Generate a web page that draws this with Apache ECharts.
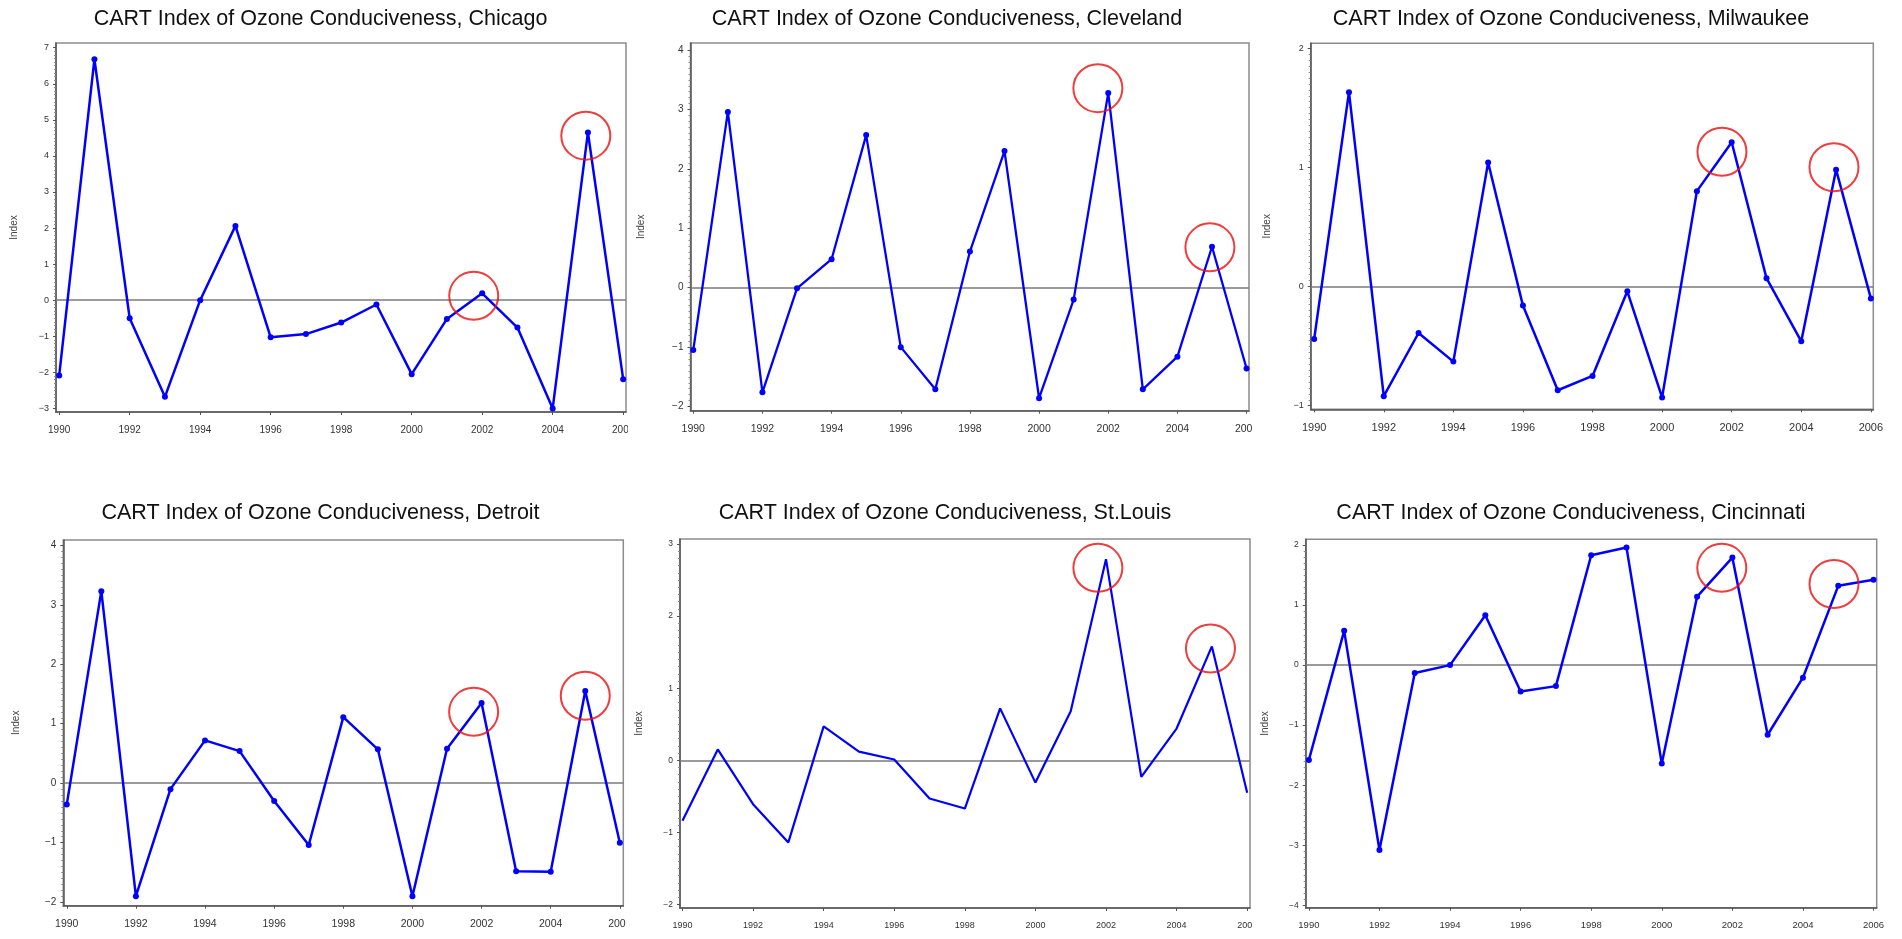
<!DOCTYPE html>
<html><head><meta charset="utf-8">
<script src="https://cdn.jsdelivr.net/npm/echarts@6.0.0/dist/echarts.min.js"></script>
<style>
html,body{margin:0;padding:0;background:#fff;width:1902px;height:939px;overflow:hidden;}
.p{position:absolute;overflow:hidden;background:#fff;}
</style></head><body>
<div id="c0" class="p"></div><div id="c1" class="p"></div><div id="c2" class="p"></div>
<div id="c3" class="p"></div><div id="c4" class="p"></div><div id="c5" class="p"></div>
<script>
// ---- data ----
const years = [1990,1991,1992,1993,1994,1995,1996,1997,1998,1999,2000,2001,2002,2003,2004,2005,2006];
const xTickYears = [1990,1992,1994,1996,1998,2000,2002,2004,2006];

const chicago    = [-2.09,6.68,-0.50,-2.68,0.00,2.06,-1.03,-0.94,-0.62,-0.12,-2.05,-0.52,0.19,-0.76,-3.00,4.65,-2.19];
const cleveland  = [-1.05,2.96,-1.76,-0.01,0.48,2.57,-1.00,-1.71,0.61,2.30,-1.86,-0.20,3.28,-1.71,-1.16,0.69,-1.36];
const milwaukee  = [-0.44,1.63,-0.92,-0.39,-0.63,1.04,-0.16,-0.87,-0.75,-0.04,-0.93,0.80,1.21,0.07,-0.46,0.98,-0.10];
const detroit    = [-0.36,3.23,-1.90,-0.10,0.72,0.54,-0.30,-1.04,1.11,0.57,-1.90,0.58,1.35,-1.48,-1.49,1.55,-1.00];
const stlouis    = [-0.84,0.15,-0.61,-1.14,0.47,0.12,0.01,-0.53,-0.67,0.72,-0.31,0.68,2.79,-0.23,0.44,1.58,-0.45];
const cincinnati = [-1.58,0.57,-3.08,-0.13,0.00,0.83,-0.44,-0.35,1.83,1.96,-1.64,1.14,1.79,-1.16,-0.21,1.32,1.42];

const chicagoYTicks    = [-3,-2,-1,0,1,2,3,4,5,6,7];
const clevelandYTicks  = [-2,-1,0,1,2,3,4];
const milwaukeeYTicks  = [-1,0,1,2];
const detroitYTicks    = [-2,-1,0,1,2,3,4];
const stlouisYTicks    = [-2,-1,0,1,2,3];
const cincinnatiYTicks = [-4,-3,-2,-1,0,1,2];

// highlighted-year annotation circles (centre in data coordinates)
const chicagoCircles    = [[2001.76,0.12],[2004.94,4.56]];
const clevelandCircles  = [[2001.70,3.36],[2004.94,0.68]];
const milwaukeeCircles  = [[2001.72,1.13],[2004.94,1.00]];
const detroitCircles    = [[2001.77,1.20],[2005.00,1.47]];
const stlouisCircles    = [[2001.77,2.67],[2004.96,1.55]];
const cincinnatiCircles = [[2001.70,1.62],[2004.88,1.35]];

const titlePrefix = 'CART Index of Ozone Conduciveness, ';
const cities = ['Chicago','Cleveland','Milwaukee','Detroit','St.Louis','Cincinnati'];

// ---- layout / style ----
const panels = [
 {city:cities[0], vals:chicago,    circ:chicagoCircles,    yt:chicagoYTicks,    box:[0,0,628,470],     grid:[56,43,570,369],      xr:[1989.91,2006.08], yr:[-3.10,7.13],  title:[320.5,19], gap:37,   xf:10,  yf:9,   lw:2.5, sym:true,  minor:10},
 {city:cities[1], vals:cleveland,  circ:clevelandCircles,  yt:clevelandYTicks,  box:[632,0,620,470],   grid:[58.5,43,558.5,367.7], xr:[1989.92,2006.07], yr:[-2.07,4.12],  title:[315,19],   gap:44.5, xf:10.5,yf:10,  lw:2.3, sym:true,  minor:10},
 {city:cities[2], vals:milwaukee,  circ:milwaukeeCircles,  yt:milwaukeeYTicks,  box:[1256,0,646,470],  grid:[54.7,43.3,562.6,366], xr:[1989.90,2006.07], yr:[-1.03,2.04],  title:[315,19],   gap:38.7, xf:11,  yf:9,   lw:2.5, sym:true,  minor:20},
 {city:cities[3], vals:detroit,    circ:detroitCircles,    yt:detroitYTicks,    box:[0,470,626,469],   grid:[63.3,70,560,365.7],   xr:[1989.90,2006.10], yr:[-2.06,4.09],  title:[320.5,43.3], gap:42,   xf:10.5,yf:10,  lw:2.5, sym:true,  minor:10},
 {city:cities[4], vals:stlouis,    circ:stlouisCircles,    yt:stlouisYTicks,    box:[632,470,620,469], grid:[48,69,570,369],       xr:[1989.93,2006.08], yr:[-2.05,3.07],  title:[313,43.3],   gap:36,   xf:9,   yf:8.5, lw:2.2, sym:false, minor:10},
 {city:cities[5], vals:cincinnati, circ:cincinnatiCircles, yt:cincinnatiYTicks, box:[1256,470,646,469],grid:[49.7,69.3,571,368.4], xr:[1989.91,2006.09], yr:[-4.04,2.095], title:[315,43.3],   gap:35.7, xf:9.5, yf:8.5, lw:2.5, sym:true,  minor:10}
];

const FONT = '"Liberation Sans", Arial, Helvetica, sans-serif';
const fmtY = v => (v < 0 ? '\u2212' + Math.abs(v) : String(v));

panels.forEach((p, i) => {
  const el = document.getElementById('c' + i);
  el.style.left = p.box[0] + 'px'; el.style.top = p.box[1] + 'px';
  el.style.width = p.box[2] + 'px'; el.style.height = p.box[3] + 'px';
  const chart = echarts.init(el, null, {renderer: 'canvas'});

  const minors = [];
  for (let k = 0; k < p.yt.length - 1; k++) {
    for (let m = 1; m < p.minor; m++) minors.push(p.yt[k] + m / p.minor);
  }

  const yCommon = {type:'value', min:p.yr[0], max:p.yr[1], gridIndex:0, splitLine:{show:false}};
  chart.setOption({
    animation:false,
    backgroundColor:'#fff',
    graphic:[{type:'text', x:p.title[0], y:p.title[1], silent:true,
      style:{text: titlePrefix + p.city, font:'21.5px ' + FONT, fill:'#111', align:'center', verticalAlign:'middle'}}],
    grid:{left:p.grid[0], top:p.grid[1], width:p.grid[2], height:p.grid[3], show:true,
          borderColor:'#8c8c8c', borderWidth:1.5, backgroundColor:'#fff', containLabel:false, outerBoundsMode:'none'},
    xAxis:{type:'value', min:p.xr[0], max:p.xr[1], splitLine:{show:false},
      axisLine:{show:true, onZero:false, lineStyle:{color:'#555', width:1.5}},
      axisTick:{show:true, customValues:xTickYears, length:3, inside:false, lineStyle:{color:'#555', width:1}},
      axisLabel:{customValues:xTickYears, formatter:v => String(v), fontSize:p.xf, fontFamily:FONT, color:'#333', margin:13}},
    yAxis:[
      Object.assign({}, yCommon, {position:'left',
        name:'Index', nameLocation:'middle', nameRotate:90, nameGap:p.gap, nameMoveOverlap:false,
        nameTextStyle:{fontSize:10, fontFamily:FONT, color:'#444'},
        axisLine:{show:true, onZero:false, lineStyle:{color:'#555', width:1.5}},
        axisTick:{show:true, customValues:p.yt, length:3, lineStyle:{color:'#555', width:1}},
        axisLabel:{customValues:p.yt, formatter:fmtY, fontSize:p.yf, fontFamily:FONT, color:'#333', margin:7}}),
      Object.assign({}, yCommon, {position:'left', offset:0,
        axisLine:{show:false}, axisLabel:{show:false},
        axisTick:{show:true, customValues:minors, length:2, lineStyle:{color:'#888', width:1}}})
    ],
    series:[
      {type:'line', xAxisIndex:0, yAxisIndex:0, data: years.map((yr, k) => [yr, p.vals[k]]),
       showSymbol:p.sym, symbol:'circle', symbolSize:6, z:3,
       lineStyle:{color:'#0000ff', width:p.lw}, itemStyle:{color:'#0000ff'},
       markLine:{silent:true, symbol:['none','none'], label:{show:false}, z:1,
         lineStyle:{color:'#7a7a7a', width:1.5, type:'solid'}, emphasis:{disabled:true},
         data:[{yAxis:0}]}},
      {type:'scatter', xAxisIndex:0, yAxisIndex:0, data:p.circ, symbol:'circle', symbolSize:[49,48], z:5, clip:false,
       silent:true, itemStyle:{color:'rgba(0,0,0,0)', borderColor:'#e80f0f', borderWidth:2}}
    ]
  });
});
</script>
</body></html>
